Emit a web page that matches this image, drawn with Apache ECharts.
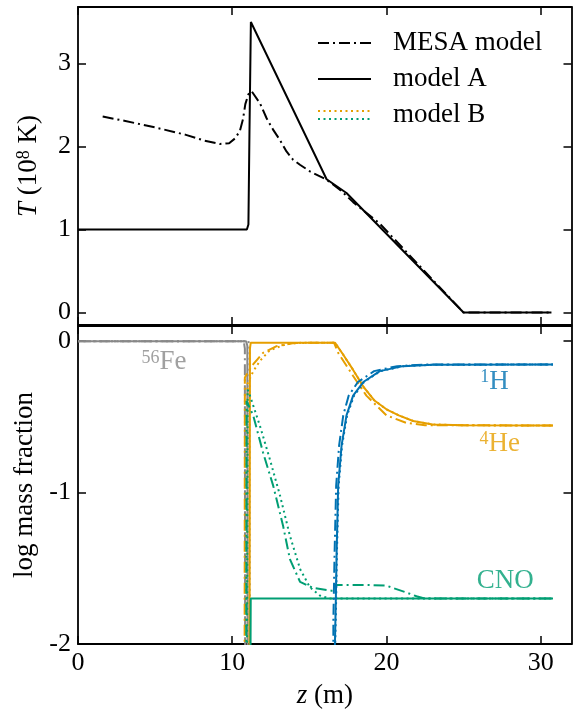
<!DOCTYPE html>
<html>
<head>
<meta charset="utf-8">
<script src="https://cdn.jsdelivr.net/npm/echarts@6/dist/echarts.min.js"></script>
<style>
  html, body { margin: 0; padding: 0; background: #fff; }
  #chart { width: 573px; height: 713px; }
</style>
</head>
<body>
<div id="chart"></div>
<script>
// ---- top panel: temperature (1e8 K) vs z (m)
const tempMesaZ = [1.6, 3.0, 5.0, 7.0, 8.2, 9.2, 9.8, 10.2, 10.5, 10.7, 10.85, 11.05, 11.26, 11.36, 11.8, 12.23, 12.66, 13.09, 13.52, 13.95, 14.39, 15.04, 16.12, 16.98, 17.84, 19.57, 25.0, 30.7];
const tempMesaT = [2.36, 2.31, 2.23, 2.14, 2.07, 2.03, 2.04, 2.10, 2.19, 2.33, 2.51, 2.63, 2.665, 2.66, 2.52, 2.34, 2.20, 2.08, 1.94, 1.84, 1.78, 1.70, 1.60, 1.48, 1.33, 1.07, 0.0, 0.0];
const tempAZ = [0, 10.95, 11.05, 11.12, 11.21, 16.12, 17.41, 25.0, 30.7];
const tempAT = [1.0, 1.0, 1.06, 2.2, 3.50, 1.605, 1.44, 0.0, 0.0];

// ---- bottom panel: log mass fraction vs z (m)
const feMesaZ = [0, 10.75, 10.82, 10.84];
const feMesaV = [0, 0, -0.05, -2.5];
const feAZ = [0, 10.9, 10.98, 11.0];
const feAV = [0, 0, -0.03, -2.5];
const feBZ = [0, 11.05, 11.12, 11.14];
const feBV = [0, 0, -0.05, -2.5];

const heMesaZ = [10.8, 10.82, 11.26, 12.0, 12.88, 14.0, 16.6, 16.87, 17.84, 18.7, 20.0, 21.3, 22.5, 30.8];
const heMesaV = [-2.5, -0.24, -0.165, -0.077, -0.033, -0.012, -0.01, -0.077, -0.23, -0.36, -0.49, -0.54, -0.555, -0.557];
const heAZ = [11.12, 11.15, 11.2, 16.66, 17.2, 17.84, 18.5, 19.2, 20.0, 20.8, 21.73, 23.0, 25.0, 30.8];
const heAV = [-2.5, -0.05, -0.01, -0.01, -0.09, -0.19, -0.30, -0.39, -0.45, -0.49, -0.527, -0.55, -0.556, -0.557];
const heBZ = [10.98, 11.0, 11.36, 11.8, 12.44, 13.5, 14.5, 16.66, 17.2, 17.84, 18.5, 19.2, 20.0, 20.8, 21.73, 23.0, 25.0, 30.8];
const heBV = [-2.5, -0.28, -0.2, -0.13, -0.06, -0.02, -0.01, -0.01, -0.09, -0.19, -0.30, -0.39, -0.45, -0.49, -0.527, -0.55, -0.556, -0.557];

const cnoMesaZ = [10.9, 10.93, 11.36, 12.0, 12.66, 13.3, 13.74, 14.4, 15.25, 16.44, 16.62, 16.68, 18.9, 20.0, 21.3, 21.95, 22.5, 30.8];
const cnoMesaV = [-2.5, -0.395, -0.49, -0.736, -0.956, -1.22, -1.44, -1.59, -1.63, -1.648, -1.648, -1.61, -1.61, -1.615, -1.66, -1.685, -1.70, -1.70];
const cnoAZ = [11.17, 11.2, 30.8];
const cnoAV = [-2.5, -1.70, -1.70];
const cnoBZ = [10.95, 11.0, 11.15, 11.8, 12.44, 13.1, 13.74, 14.4, 15.04, 15.68, 16.3, 30.8];
const cnoBV = [-2.5, -0.32, -0.36, -0.56, -0.78, -1.02, -1.285, -1.505, -1.626, -1.68, -1.70, -1.70];

const hMesaZ = [16.55, 16.56, 16.64, 16.74, 16.93, 17.2, 17.55, 18.15, 19.2, 20.7, 22.5, 30.8];
const hMesaV = [-2.5, -1.84, -1.39, -0.956, -0.69, -0.49, -0.36, -0.27, -0.198, -0.165, -0.155, -0.154];
const hAZ = [16.62, 16.66, 16.72, 16.77, 16.87, 17.09, 17.41, 17.84, 18.5, 19.57, 21.08, 23.0, 30.8];
const hAV = [-2.5, -2.0, -1.7, -1.395, -0.956, -0.69, -0.49, -0.36, -0.27, -0.198, -0.165, -0.156, -0.154];
const hBZ = [16.64, 16.68, 16.74, 16.79, 16.9, 17.12, 17.45, 17.9, 18.55, 19.6, 21.1, 23.0, 30.8];
const hBV = hAV;

// tick labels
const xTicks = [0, 10, 20, 30];
const tTicks = [0, 1, 2, 3];
const massTicks = [-2, -1, 0];

// species labels (z, log X)
const speciesLabels = [
  { text: '{s|56}Fe', at: [5.57, -0.14], color: '#888888' },
  { text: '{s|1}H', at: [27.0, -0.27], color: '#0072B2' },
  { text: '{s|4}He', at: [27.35, -0.68], color: '#E69F00' },
  { text: 'CNO', at: [27.7, -1.585], color: '#009E73' }
];

const FONT = 'Liberation Serif';
const ORANGE = '#E69F00', GREEN = '#009E73', BLUE = '#0072B2', GRAY = '#888888';
const DASHDOT = [11, 4, 2, 4];
const DOT = [2, 3.5];

const zip = (xs, ys) => xs.map((x, i) => [x, ys[i]]);

const chart = echarts.init(document.getElementById('chart'), null, { renderer: 'canvas' });

const axisLine = { onZero: false, lineStyle: { color: '#000', width: 1.8 } };
const tick = (vals) => ({ inside: true, length: 8, customValues: vals, lineStyle: { color: '#000', width: 1.5 } });
const labelStyle = { fontFamily: FONT, fontSize: 26, color: '#000' };
const nameStyle = { fontFamily: FONT, fontSize: 27, color: '#000' };

function xAxis(grid, position, showLabel, extra) {
  return Object.assign({
    type: 'value', gridIndex: grid, position: position, min: 0, max: 32,
    axisLine: axisLine, axisTick: tick(xTicks), splitLine: { show: false },
    axisLabel: Object.assign({ show: showLabel, customValues: xTicks, margin: 6 }, labelStyle)
  }, extra || {});
}
function yAxis(grid, position, min, max, ticks, showLabel, extra) {
  return Object.assign({
    type: 'value', gridIndex: grid, position: position, min: min, max: max,
    axisLine: axisLine, axisTick: tick(ticks), splitLine: { show: false },
    axisLabel: Object.assign({ show: showLabel, customValues: ticks, margin: 7 }, labelStyle)
  }, extra || {});
}

function line(name, xs, ys, color, dash, panel, width) {
  return {
    name: name, type: 'line', xAxisIndex: panel * 2, yAxisIndex: panel * 2,
    data: zip(xs, ys), showSymbol: false, symbol: 'none', silent: true,
    clip: true, animation: false,
    lineStyle: { color: color, width: width || 2, type: dash || 'solid' }
  };
}

const nameRich = {
  i: { fontFamily: FONT, fontSize: 27, fontStyle: 'italic', color: '#000' },
  s: { fontFamily: FONT, fontSize: 18, color: '#000', verticalAlign: 'top' }
};

const series = [
  line('MESA model', tempMesaZ, tempMesaT, '#000', DASHDOT, 0),
  line('model A', tempAZ, tempAT, '#000', 'solid', 0),

  line('Fe MESA', feMesaZ, feMesaV, GRAY, DASHDOT, 1),
  line('Fe A', feAZ, feAV, GRAY, 'solid', 1),
  line('Fe B', feBZ, feBV, GRAY, DOT, 1),
  line('He MESA', heMesaZ, heMesaV, ORANGE, DASHDOT, 1),
  line('He A', heAZ, heAV, ORANGE, 'solid', 1),
  line('He B', heBZ, heBV, ORANGE, DOT, 1),
  line('CNO MESA', cnoMesaZ, cnoMesaV, GREEN, DASHDOT, 1),
  line('CNO A', cnoAZ, cnoAV, GREEN, 'solid', 1),
  line('CNO B', cnoBZ, cnoBV, GREEN, DOT, 1),
  line('H MESA', hMesaZ, hMesaV, BLUE, DASHDOT, 1),
  line('H A', hAZ, hAV, BLUE, 'solid', 1),
  line('H B', hBZ, hBV, BLUE, DOT, 1)
];

speciesLabels.forEach(function (lab) {
  series.push({
    type: 'scatter', xAxisIndex: 2, yAxisIndex: 2, silent: true, animation: false,
    symbolSize: 1, itemStyle: { color: 'rgba(0,0,0,0)' },
    data: [lab.at],
    label: {
      show: true, position: 'inside', formatter: lab.text,
      fontFamily: FONT, fontSize: 27, color: lab.color,
      rich: { s: { fontFamily: FONT, fontSize: 18, color: lab.color, verticalAlign: 'top' } }
    }
  });
});

// legend drawn by hand (two colours for model B)
const legendFont = '27px "' + FONT + '"';
const graphic = [
  { type: 'line', shape: { x1: 318, y1: 43, x2: 371, y2: 43 }, style: { stroke: '#000', lineWidth: 2, lineDash: DASHDOT } },
  { type: 'line', shape: { x1: 318, y1: 79, x2: 371, y2: 79 }, style: { stroke: '#000', lineWidth: 2 } },
  { type: 'line', shape: { x1: 318, y1: 111, x2: 371, y2: 111 }, style: { stroke: ORANGE, lineWidth: 2, lineDash: DOT } },
  { type: 'line', shape: { x1: 318, y1: 119, x2: 371, y2: 119 }, style: { stroke: GREEN, lineWidth: 2, lineDash: DOT } },
  { type: 'text', x: 393, y: 43, style: { text: 'MESA model', font: legendFont, fill: '#000', verticalAlign: 'middle' } },
  { type: 'text', x: 393, y: 79, style: { text: 'model A', font: legendFont, fill: '#000', verticalAlign: 'middle' } },
  { type: 'text', x: 393, y: 115, style: { text: 'model B', font: legendFont, fill: '#000', verticalAlign: 'middle' } }
];

const option = {
  backgroundColor: '#fff',
  animation: false,
  grid: [
    { left: 78, top: 7, width: 493.5, height: 318 },
    { left: 78, top: 326, width: 493.5, height: 318 }
  ],
  xAxis: [
    xAxis(0, 'bottom', false),
    xAxis(0, 'top', false),
    xAxis(1, 'bottom', true, {
      name: '{i|z} (m)', nameLocation: 'middle', nameGap: 38,
      nameTextStyle: Object.assign({ rich: nameRich }, nameStyle)
    }),
    xAxis(1, 'top', false)
  ],
  yAxis: [
    yAxis(0, 'left', -0.15, 3.68, tTicks, true, {
      name: '{i|T} (10{s|8} K)', nameLocation: 'middle', nameGap: 36,
      nameTextStyle: Object.assign({ rich: nameRich }, nameStyle)
    }),
    yAxis(0, 'right', -0.15, 3.68, tTicks, false),
    yAxis(1, 'left', -2, 0.1, massTicks, true, {
      name: 'log mass fraction', nameLocation: 'middle', nameGap: 40,
      nameTextStyle: nameStyle
    }),
    yAxis(1, 'right', -2, 0.1, massTicks, false)
  ],
  series: series,
  graphic: graphic
};
chart.setOption(option);
</script>
</body>
</html>
